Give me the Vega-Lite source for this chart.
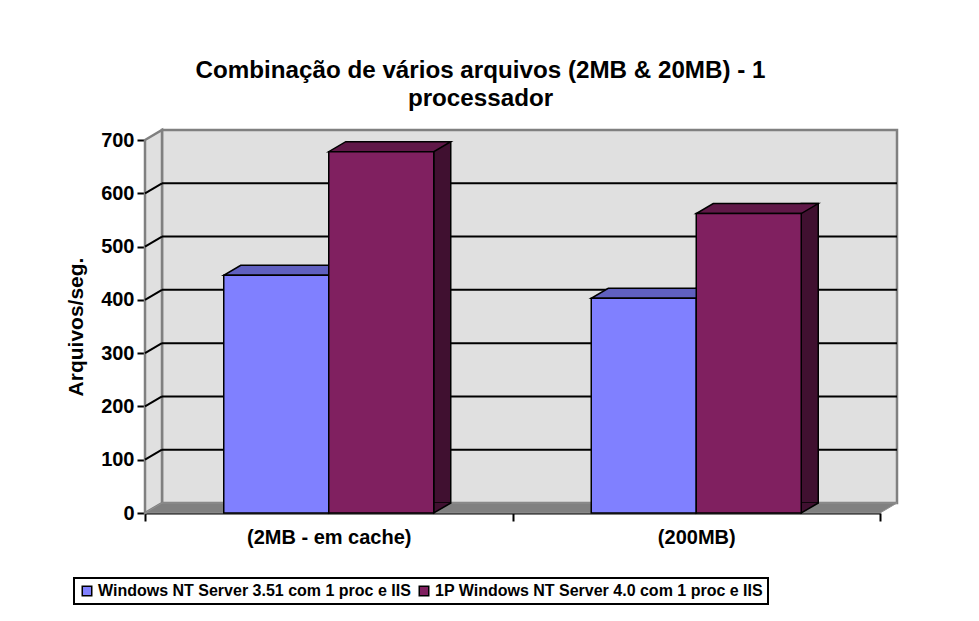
{
  "$schema": "https://vega.github.io/schema/vega-lite/v6.json",
  "width": 735,
  "height": 373,
  "autosize": "none",
  "padding": {"left": 145, "top": 140, "right": 99, "bottom": 108},
  "background": "white",
  "config": {
    "view": {"stroke": null},
    "font": "Liberation Sans",
    "axis": {
      "domainColor": "black", "domainWidth": 2, "tickColor": "black", "tickWidth": 2, "tickSize": 8,
      "labelFont": "Liberation Sans", "labelFontSize": 20, "labelFontWeight": "bold", "labelColor": "black",
      "titleFont": "Liberation Sans", "titleFontSize": 21, "titleFontWeight": "bold", "titleColor": "black",
      "grid": false, "zindex": 1
    },
    "axisX": {"tickBand": "extent", "labelAngle": 0, "labelPadding": 6},
    "axisY": {"labelPadding": 3, "titlePadding": 14},
    "legend": {"strokeWidth": 2}
  },
  "title": {
    "text": ["Combinação de vários arquivos (2MB & 20MB) - 1", "processador"],
    "font": "Liberation Sans", "fontSize": 24.2, "fontWeight": "bold", "color": "black",
    "anchor": "middle", "frame": "group", "dx": -32, "offset": 14, "lineHeight": 28
  },
  "datasets": {
    "bars": [
      {"cat": "(2MB - em cache)", "series": "Windows NT Server 3.51 com 1 proc e IIS", "value": 446},
      {"cat": "(2MB - em cache)", "series": "1P Windows NT Server 4.0 com 1 proc e IIS", "value": 678},
      {"cat": "(200MB)", "series": "Windows NT Server 3.51 com 1 proc e IIS", "value": 403},
      {"cat": "(200MB)", "series": "1P Windows NT Server 4.0 com 1 proc e IIS", "value": 562}
    ],
    "grid": [{"v": 100}, {"v": 200}, {"v": 300}, {"v": 400}, {"v": 500}, {"v": 600}],
    "frame": [{}]
  },
  "data": {"name": "bars"},
  "layer": [
    {
      "data": {"name": "frame"},
      "mark": {"type": "rect", "fill": "#E0E0E0", "stroke": "#808080", "strokeWidth": 2.5,
               "xOffset": 17, "x2Offset": 17, "yOffset": -10, "y2Offset": -10},
      "encoding": {
        "x": {"value": 0}, "x2": {"value": "width"},
        "y": {"datum": 0, "type": "quantitative", "title": "Arquivos/seg.", "scale": {"domain": [0, 700], "nice": false}},
        "y2": {"datum": 700}
      }
    },
    {
      "data": {"name": "frame"},
      "mark": {"type": "point", "shape": "M0,-0.9325L0.085,-0.9825L0.085,0.8825L0,0.9325Z", "size": 160000,
               "filled": true, "fill": "#E0E0E0", "stroke": "#808080", "strokeWidth": 2.5, "opacity": 1},
      "encoding": {
        "x": {"value": 0},
        "y": {"datum": 350, "type": "quantitative", "title": "Arquivos/seg.", "scale": {"domain": [0, 700], "nice": false}}
      }
    },
    {
      "data": {"name": "frame"},
      "mark": {"type": "point", "shape": "M0,0L2,0L2.0463,-0.0272L0.0463,-0.0272Z", "size": 540225,
               "filled": true, "fill": "#808080", "stroke": "#909090", "strokeWidth": 1, "opacity": 1},
      "encoding": {
        "x": {"value": 0},
        "y": {"datum": 0, "type": "quantitative", "title": "Arquivos/seg.", "scale": {"domain": [0, 700], "nice": false}}
      }
    },
    {
      "data": {"name": "grid"},
      "mark": {"type": "rule", "color": "black", "strokeWidth": 2, "xOffset": 17, "x2Offset": 17, "yOffset": -10},
      "encoding": {
        "x": {"value": 0}, "x2": {"value": "width"},
        "y": {"field": "v", "type": "quantitative", "title": "Arquivos/seg.", "scale": {"domain": [0, 700], "nice": false}}
      }
    },
    {
      "data": {"name": "grid"},
      "mark": {"type": "point", "shape": "M0,0L1,-0.5882", "size": 1156, "filled": false,
               "stroke": "black", "strokeWidth": 2, "opacity": 1},
      "encoding": {
        "x": {"value": 0},
        "y": {"field": "v", "type": "quantitative", "title": "Arquivos/seg.", "scale": {"domain": [0, 700], "nice": false}}
      }
    },
    {
      "transform": [{"filter": {"field": "series", "equal": "Windows NT Server 3.51 com 1 proc e IIS"}}],
      "mark": {"type": "bar", "width": 17, "xOffset": 8.5, "yOffset": -10, "y2Offset": -10,
               "fill": "#404080", "stroke": "black", "strokeWidth": 1.5},
      "encoding": {
        "x": {"field": "cat", "type": "nominal", "sort": ["(2MB - em cache)", "(200MB)"], "title": null},
        "y": {"field": "value", "type": "quantitative", "title": "Arquivos/seg.", "scale": {"domain": [0, 700], "nice": false}}
      }
    },
    {
      "transform": [{"filter": {"field": "series", "equal": "1P Windows NT Server 4.0 com 1 proc e IIS"}}],
      "mark": {"type": "bar", "width": 17, "xOffset": 113.5, "yOffset": -10, "y2Offset": -10,
               "fill": "#401030", "stroke": "black", "strokeWidth": 1.5},
      "encoding": {
        "x": {"field": "cat", "type": "nominal", "sort": ["(2MB - em cache)", "(200MB)"], "title": null},
        "y": {"field": "value", "type": "quantitative", "title": "Arquivos/seg.", "scale": {"domain": [0, 700], "nice": false}}
      }
    },
    {
      "transform": [{"filter": {"field": "series", "equal": "Windows NT Server 3.51 com 1 proc e IIS"}}],
      "mark": {"type": "point", "shape": "M1.7,-1L0,0L0,-1", "size": 400, "xOffset": 0,
               "filled": true, "fill": "#404080", "stroke": "black", "strokeWidth": 1.5, "opacity": 1},
      "encoding": {
        "x": {"field": "cat", "type": "nominal", "sort": ["(2MB - em cache)", "(200MB)"], "title": null},
        "y": {"datum": 0, "type": "quantitative", "title": "Arquivos/seg.", "scale": {"domain": [0, 700], "nice": false}}
      }
    },
    {
      "transform": [{"filter": {"field": "series", "equal": "1P Windows NT Server 4.0 com 1 proc e IIS"}}],
      "mark": {"type": "point", "shape": "M1.7,-1L0,0L0,-1", "size": 400, "xOffset": 105,
               "filled": true, "fill": "#401030", "stroke": "black", "strokeWidth": 1.5, "opacity": 1},
      "encoding": {
        "x": {"field": "cat", "type": "nominal", "sort": ["(2MB - em cache)", "(200MB)"], "title": null},
        "y": {"datum": 0, "type": "quantitative", "title": "Arquivos/seg.", "scale": {"domain": [0, 700], "nice": false}}
      }
    },
    {
      "transform": [{"filter": {"field": "series", "equal": "Windows NT Server 3.51 com 1 proc e IIS"}}],
      "mark": {"type": "point", "shape": "M-1,0L1,0L1.3238,-0.1905L-0.6762,-0.1905Z", "size": 11025, "xOffset": -52.5,
               "filled": true, "fill": "#6060C0", "stroke": "black", "strokeWidth": 1.5, "opacity": 1},
      "encoding": {
        "x": {"field": "cat", "type": "nominal", "sort": ["(2MB - em cache)", "(200MB)"], "title": null},
        "y": {"field": "value", "type": "quantitative", "title": "Arquivos/seg.", "scale": {"domain": [0, 700], "nice": false}}
      }
    },
    {
      "transform": [{"filter": {"field": "series", "equal": "1P Windows NT Server 4.0 com 1 proc e IIS"}}],
      "mark": {"type": "point", "shape": "M-1,0L1,0L1.3238,-0.1905L-0.6762,-0.1905Z", "size": 11025, "xOffset": 52.5,
               "filled": true, "fill": "#601848", "stroke": "black", "strokeWidth": 1.5, "opacity": 1},
      "encoding": {
        "x": {"field": "cat", "type": "nominal", "sort": ["(2MB - em cache)", "(200MB)"], "title": null},
        "y": {"field": "value", "type": "quantitative", "title": "Arquivos/seg.", "scale": {"domain": [0, 700], "nice": false}}
      }
    },
    {
      "mark": {"type": "bar", "stroke": "black", "strokeWidth": 1.5, "opacity": 1},
      "encoding": {
        "x": {"field": "cat", "type": "nominal", "sort": ["(2MB - em cache)", "(200MB)"], "title": null,
              "scale": {"paddingInner": 0, "paddingOuter": 0}},
        "xOffset": {"field": "series", "type": "nominal",
                    "sort": ["Windows NT Server 3.51 com 1 proc e IIS", "1P Windows NT Server 4.0 com 1 proc e IIS"],
                    "scale": {"paddingInner": 0, "paddingOuter": 0.75}},
        "y": {"field": "value", "type": "quantitative", "title": "Arquivos/seg.", "scale": {"domain": [0, 700], "nice": false},
              "axis": {"values": [0, 100, 200, 300, 400, 500, 600, 700]}},
        "color": {
          "field": "series", "type": "nominal",
          "sort": ["Windows NT Server 3.51 com 1 proc e IIS", "1P Windows NT Server 4.0 com 1 proc e IIS"],
          "scale": {"domain": ["Windows NT Server 3.51 com 1 proc e IIS", "1P Windows NT Server 4.0 com 1 proc e IIS"],
                    "range": ["#8080FF", "#802060"]},
          "legend": {
            "orient": "none", "legendX": -71, "legendY": 438, "direction": "horizontal", "title": null,
            "symbolType": "square", "symbolSize": 90, "symbolStrokeColor": "black", "symbolStrokeWidth": 1.5,
            "labelFont": "Liberation Sans", "labelFontSize": 16, "labelFontWeight": "bold", "labelColor": "black",
            "labelLimit": 0, "strokeColor": "black", "padding": 5, "columnPadding": 5, "labelOffset": 3
          }
        }
      }
    }
  ]
}
